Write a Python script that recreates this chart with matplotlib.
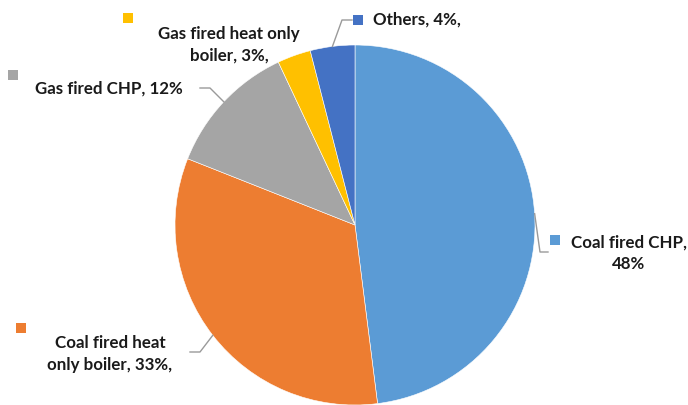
import numpy as np
import matplotlib
matplotlib.use("Agg")
import matplotlib.pyplot as plt
from matplotlib.patches import Rectangle

categories = ["Coal fired CHP", "Coal fired heat only boiler", "Gas fired CHP",
              "Gas fired heat only boiler", "Others"]
values = [48, 33, 12, 3, 4]
label_texts = ["Coal fired CHP,\n48%", "Coal fired heat\nonly boiler, 33%,",
               "Gas fired CHP, 12%", "Gas fired heat only\nboiler, 3%,", "Others, 4%,"]
colors = ["#5B9BD5", "#ED7D31", "#A5A5A5", "#FFC000", "#4472C4"]

W, H = 688, 405
fig = plt.figure(figsize=(W / 100, H / 100), dpi=100)
ax = fig.add_axes([0, 0, 1, 1])

def P(px, py):
    return (px, H - py)

cx, cy = P(355, 225)
R = 180
wedges, _ = ax.pie(values, colors=colors, startangle=90, counterclock=False,
                   center=(cx, cy), radius=R,
                   wedgeprops=dict(edgecolor="white", linewidth=0.4))
ax.set_xlim(0, W)
ax.set_ylim(0, H)
ax.set_aspect("auto")
ax.axis("off")

font = dict(family=["Lato", "DejaVu Sans"], fontweight="bold", fontsize=12.2,
            color="#1a1a1a")

# text positions (center x, center y), marker centre, leader elbow points
layout = [
    dict(text=(629, 253), ha="center", marker=(555, 240), leader=[(540, 252), (548, 252)]),
    dict(text=(110, 354), ha="center", marker=(21, 328), leader=[(200, 352), (190, 352)]),
    dict(text=(35, 89), ha="left", marker=(13, 75), leader=[(210, 88), (200, 88)]),
    dict(text=(229, 45), ha="center", marker=(128, 18), leader=None),
    dict(text=(373, 20), ha="left", marker=(358, 20), leader=[(342, 20), (352, 20)]),
]

for w, lab, col, L in zip(wedges, label_texts, colors, layout):
    tx, ty = P(*L["text"])
    ax.text(tx, ty, lab, ha=L["ha"], va="center", linespacing=1.45, **font)
    mx, my = P(*L["marker"])
    ax.add_patch(Rectangle((mx - 5, my - 5), 10, 10, facecolor=col,
                           edgecolor="none", clip_on=False))
    if L["leader"]:
        mid = np.deg2rad((w.theta1 + w.theta2) / 2)
        ex, ey = cx + R * np.cos(mid), cy + R * np.sin(mid)
        xs = [ex] + [P(*p)[0] for p in L["leader"]]
        ys = [ey] + [P(*p)[1] for p in L["leader"]]
        ax.plot(xs, ys, color="#9a9a9a", lw=1.0, clip_on=False)

fig.savefig("out.png", dpi=100)
